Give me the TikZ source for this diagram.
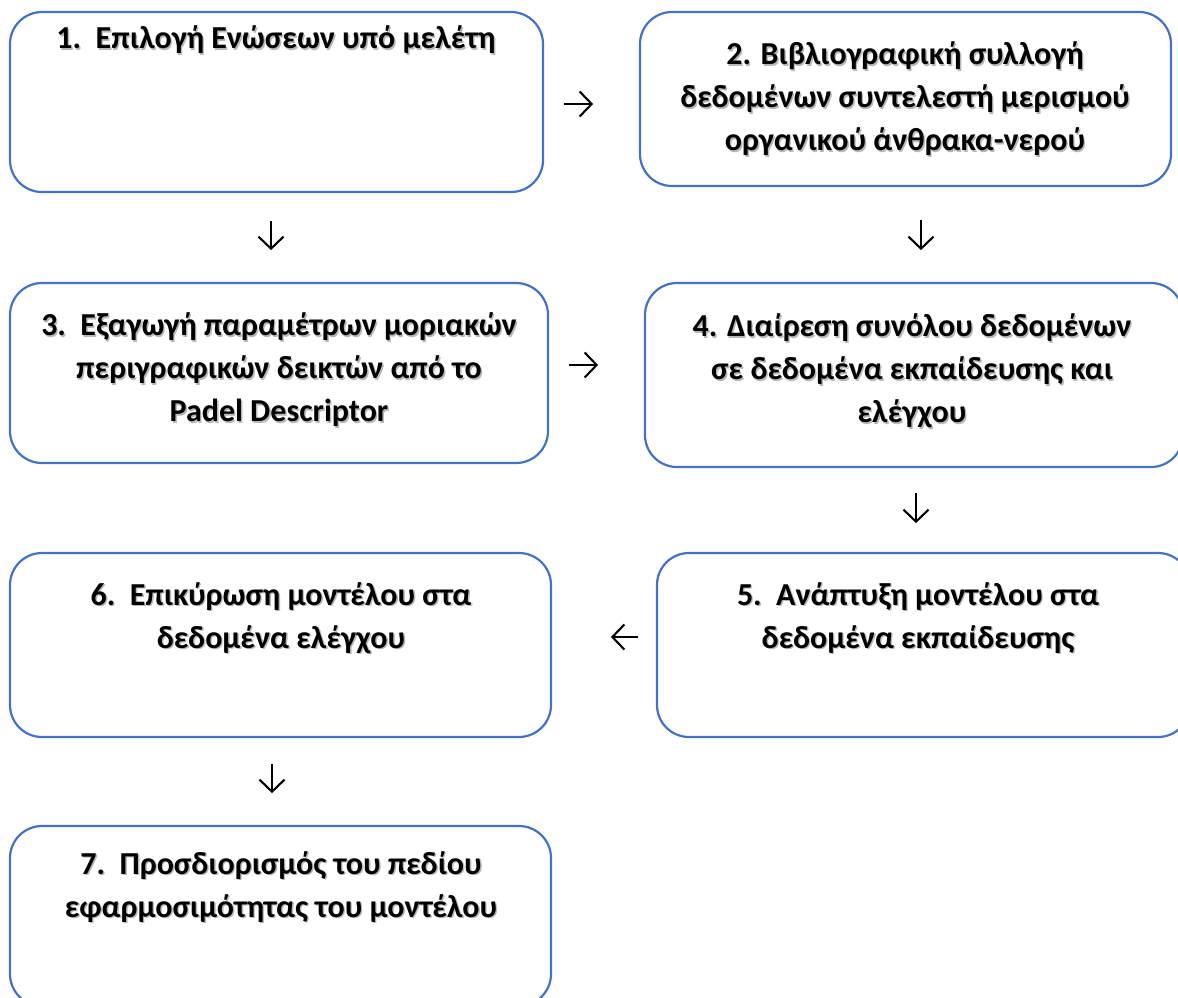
\documentclass[tikz,border=0pt]{standalone}
\usepackage{fontspec}
\setmainfont{Carlito}
\usetikzlibrary{arrows.meta,calc}
\definecolor{boxblue}{HTML}{4472C4}
\tikzset{
  box/.style={draw=boxblue, line width=2.2pt, rounded corners=32pt, fill=white, inner sep=0pt},
  txt/.style={align=center, font=\fontsize{32}{43}\selectfont\bfseries, inner sep=0pt, text=black},
  arr/.style={line width=2.1pt, -{Straight Barb[length=12pt,width=25pt,line width=2.1pt]}},
}
\newcommand\stepbox[5]{\node[box, minimum width=#4pt-#2pt, minimum height=#5pt-#3pt] (#1) at ({(#2+#4)/2},{(#3+#5)/2}) {};}
\newcommand\steptext[4]{%
  \node[txt, text=black!28] at ($(#2,#3)+(1.4,1.4)$) {#4};
  \node[txt] (#1) at (#2,#3) {#4};}
\begin{document}
\begin{tikzpicture}[x=1pt,y=-1pt]
\useasboundingbox (0,0) rectangle (1178,997);
\clip (0,0) rectangle (1178,997);
\stepbox{b1}{10}{12}{543}{192}
\stepbox{b2}{640}{12}{1171}{186}
\stepbox{b3}{10}{283}{548}{463}
\stepbox{b4}{645}{283}{1183}{467}
\stepbox{b5}{657}{553}{1190}{737}
\stepbox{b6}{10}{553}{551}{737}
\stepbox{b7}{10}{826}{551}{1006}
\steptext{t1}{276}{40}{1.\ \ Επιλογή Ενώσεων υπό μελέτη}
\steptext{t2}{905}{99}{2. Βιβλιογραφική συλλογή\\δεδομένων συντελεστή μερισμού\\οργανικού άνθρακα-νερού}
\steptext{t3}{279}{370}{3.\ \ Εξαγωγή παραμέτρων μοριακών\\περιγραφικών δεικτών από το\\Padel Descriptor}
\steptext{t4}{912}{371}{4. Διαίρεση συνόλου δεδομένων\\σε δεδομένα εκπαίδευσης και\\ελέγχου}
\steptext{t5}{918}{618}{5.\ \ Ανάπτυξη μοντέλου στα\\δεδομένα εκπαίδευσης}
\steptext{t6}{281}{618}{6.\ \ Επικύρωση μοντέλου στα\\δεδομένα ελέγχου}
\steptext{t7}{281}{887}{7.\ \ Προσδιορισμός του πεδίου\\εφαρμοσιμότητας του μοντέλου}
\draw[arr] ($(b1.east)+(20,2)$) -- ++(29,0);
\draw[arr] ($(b1.south)+(-5.5,28)$) -- ++(0,29);
\draw[arr] ($(b2.south)+(15.5,33)$) -- ++(0,30);
\draw[arr] ($(b3.east)+(20,-8)$) -- ++(29,0);
\draw[arr] ($(b4.south)+(2,25)$) -- ++(0,30);
\draw[arr] ($(b5.west)+(-18,-8)$) -- ++(-27,0);
\draw[arr] ($(b6.south)+(-8.5,26)$) -- ++(0,29);
\end{tikzpicture}
\end{document}
